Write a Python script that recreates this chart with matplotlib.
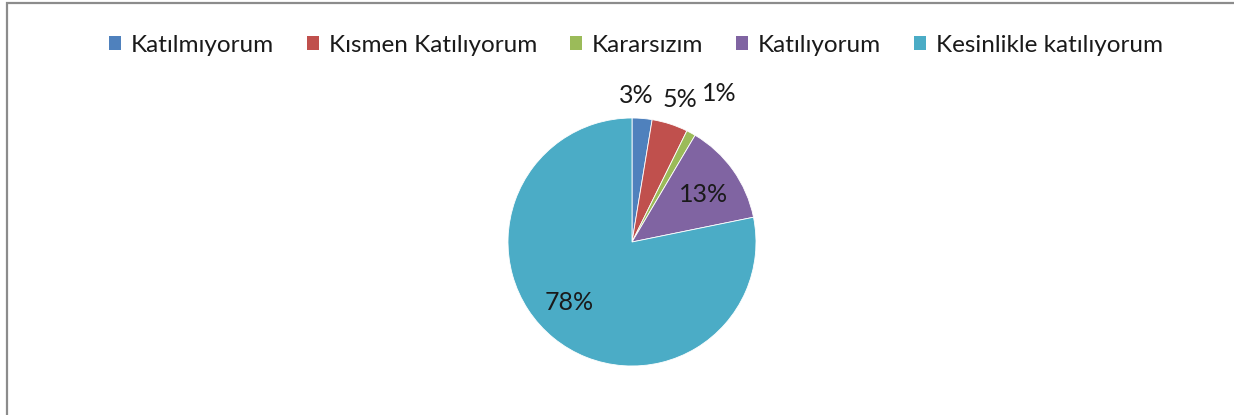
import numpy as np
import matplotlib.pyplot as plt
from matplotlib.patches import Rectangle

# survey answers, share of respondents (%)
categories = ["Katılmıyorum", "Kısmen Katılıyorum", "Kararsızım",
              "Katılıyorum", "Kesinlikle katılıyorum"]
shares = [2.6, 4.7, 1.2, 13.3, 78.2]
colors = ["#4F81BD", "#C0504D", "#9BBB59", "#8064A2", "#4BACC6"]

# radial distance of each percentage label (in pie radii)
label_r = [1.18, 1.21, 1.39, 0.69, 0.70]
label_shift = [2.9, -0.9, -1.9, -2.0, -6.7]  # small angular nudge in degrees

plt.rcParams['font.family'] = ['Lato', 'DejaVu Sans']

W, H = 1234, 415
fig = plt.figure(figsize=(W / 100, H / 100), dpi=100)

# outer chart frame (cropped on right and bottom)
fig.patches.append(Rectangle((6.5 / W, -0.1), 1.2, 1 - 3 / H + 0.1,
                             transform=fig.transFigure, fill=False,
                             edgecolor="#8c8c8c", linewidth=1.6))

cx, cy, r = 632, 242, 124
ax = fig.add_axes([(cx - r) / W, (H - cy - r) / H, 2 * r / W, 2 * r / H])
wedges, _ = ax.pie(shares, colors=colors, startangle=90, counterclock=False,
                   wedgeprops=dict(edgecolor="white", linewidth=0.6))
ax.set_xlim(-1, 1)
ax.set_ylim(-1, 1)
ax.set_aspect("equal")
ax.axis("off")

for w, s, rr, sh in zip(wedges, shares, label_r, label_shift):
    ang = np.deg2rad((w.theta1 + w.theta2) / 2 + sh)
    ax.text(rr * np.cos(ang), rr * np.sin(ang), f"{s:.0f}%",
            ha="center", va="center", fontsize=18, color="#1a1a1a")

handles = [Rectangle((0, 0), 1, 1, facecolor=c, edgecolor="none") for c in colors]
fig.legend(handles, categories, loc="center", bbox_to_anchor=(636 / W, 1 - 45 / H),
           ncol=5, frameon=False, fontsize=17.5, handlelength=0.5, handleheight=0.5,
           handletextpad=0.4, columnspacing=1.35, labelcolor="#1a1a1a")

fig.savefig("out.png", dpi=100)
